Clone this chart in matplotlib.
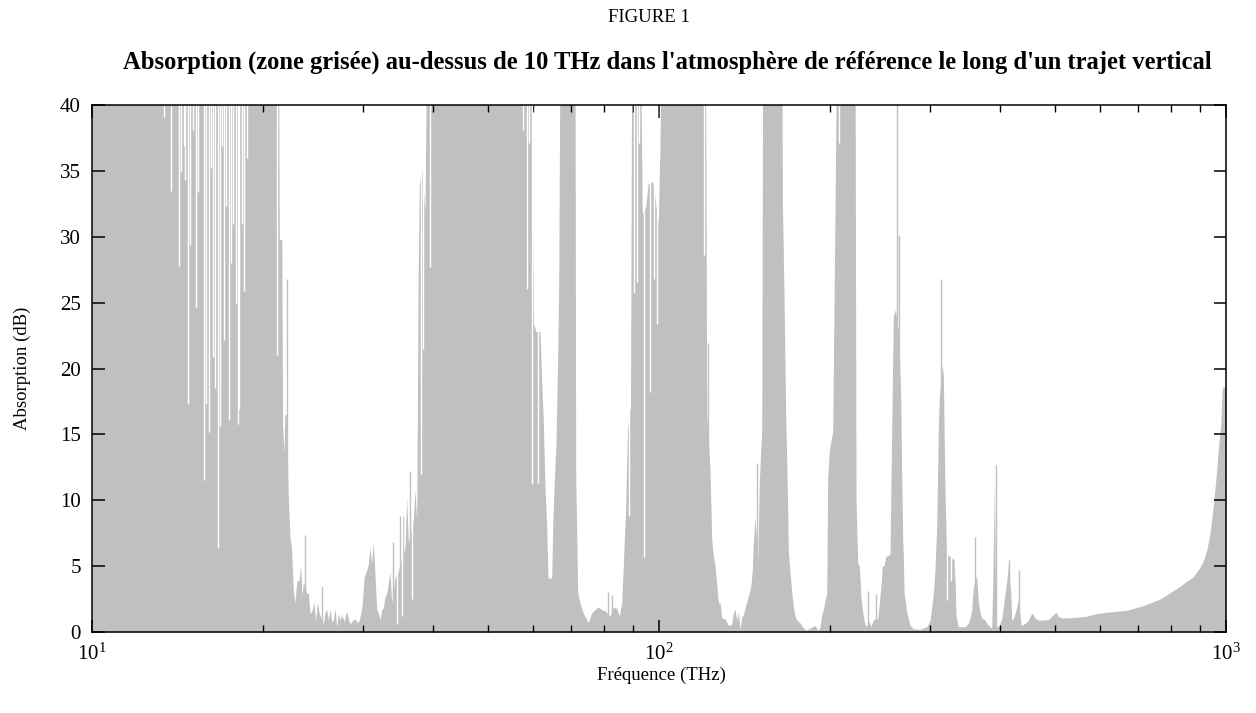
import matplotlib
matplotlib.use('Agg')
import matplotlib.pyplot as plt
from matplotlib.ticker import LogLocator, NullFormatter

plt.rcParams['font.family'] = ['Liberation Serif', 'DejaVu Serif']
plt.rcParams['mathtext.fontset'] = 'stix'

# Envelope of the absorption spectrum (THz, dB); values above 40 are saturated
env_freq = [10.00, 21.33, 21.40, 21.61, 21.69, 21.81, 21.88, 22.01, 22.19, 22.35,
            22.47, 22.65, 22.78, 22.99, 23.18, 23.34, 23.46, 23.59, 23.91, 24.07,
            24.24, 24.43, 24.63, 24.80, 24.97, 25.17, 25.58, 25.76, 25.94, 26.11,
            26.29, 26.47, 26.64, 26.83, 27.01, 27.19, 27.38, 27.57, 27.83, 28.13,
            28.32, 28.51, 28.83, 29.10, 29.37, 29.61, 29.94, 30.18, 30.51, 30.71,
            30.92, 31.14, 31.34, 31.56, 31.78, 31.98, 32.21, 32.43, 32.64, 32.87,
            33.09, 33.31, 33.54, 33.77, 34.23, 34.69, 35.65, 35.89, 36.13, 36.87,
            37.12, 37.38, 37.62, 37.78, 38.15, 38.66, 38.93,
            59.35, 60.07, 60.69, 61.68, 62.11, 62.51, 62.95, 63.38, 63.72, 64.68,
            64.95, 65.29, 65.82, 66.28, 66.55, 66.90,
            71.10, 71.30, 71.88, 72.55, 73.53, 75.04, 76.08, 77.11, 78.15, 79.24,
            80.31, 81.95, 83.06, 84.22, 85.11, 85.95, 86.51, 87.35, 87.92, 88.53,
            89.07, 89.51,
            92.76, 93.44, 94.75, 95.64, 97.48, 99.72, 100.41, 101.02,
            120.80, 121.39, 123.02, 123.88, 124.68, 125.55, 126.42, 127.24, 128.12, 129.01,
            130.75, 132.51, 134.35, 135.23, 136.17, 137.11, 138.00, 138.96, 139.92, 140.83,
            141.81, 142.79, 143.72, 144.72, 145.31, 146.08, 146.67, 147.69, 149.32, 150.29,
            151.15, 151.76, 152.38,
            164.80, 165.00, 166.14, 167.29, 168.38, 169.07, 170.24, 171.42, 172.54, 173.73,
            174.93, 177.29, 179.68, 182.18, 184.64, 188.43, 190.74, 192.29, 193.63, 194.89,
            196.24, 197.60, 198.40, 199.69, 202.47, 203.54, 204.62, 205.79,
            221.69, 222.59, 224.13, 225.59, 227.16, 228.73, 230.22, 231.54, 234.95, 236.29,
            238.21, 239.76, 243.10, 244.68, 246.38, 247.69, 249.40, 251.13, 253.18, 255.56,
            256.60, 258.17, 259.01, 261.33, 263.25, 264.53, 266.91, 267.99, 269.08, 269.73,
            270.51, 271.60, 273.49, 275.27, 277.18, 280.91, 288.65, 296.61, 298.55, 300.61,
            302.69, 304.66, 306.77, 308.90, 310.91, 312.18, 316.01, 317.30, 319.50, 321.71,
            324.33, 328.70, 331.38, 333.14, 334.09, 337.23, 346.53, 351.20, 353.64, 356.09,
            358.41, 363.39, 365.76, 368.30, 370.85, 375.85, 378.45, 383.55, 386.21, 387.79,
            390.32, 393.00, 395.10, 398.33, 402.23, 404.85, 407.65, 410.48, 413.15, 417.20,
            418.90, 421.63, 424.55, 427.49, 430.28, 435.02, 442.14, 448.11, 452.50, 456.19,
            460.47, 466.68, 476.26, 486.03, 495.99, 501.47, 506.17, 513.21, 537.96, 568.04,
            591.59, 616.12, 650.32, 668.26, 714.85, 764.99, 818.67, 875.75, 899.88, 912.02,
            924.71, 937.18, 949.83, 960.29, 969.31, 978.80, 985.18, 1000.0]
env_db = [45, 45, 29.8, 29.8, 15.6, 13.6, 16.5, 16.5, 10.2, 7.1,
          6.5, 3.2, 2.2, 3.9, 3.9, 5.1, 2.7, 3.8, 2.9, 3.0,
          1.4, 1.6, 2.3, 0.8, 2.3, 1.4, 0.6, 1.5, 1.7, 0.9,
          1.7, 0.8, 0.9, 1.8, 0.4, 1.4, 0.9, 1.3, 0.8, 1.6,
          1.0, 0.6, 0.9, 1.0, 0.7, 0.9, 1.9, 4.1, 4.7, 5.1,
          6.4, 5.2, 6.8, 4.3, 1.7, 1.5, 0.9, 1.7, 1.8, 2.7,
          2.9, 3.7, 4.6, 2.2, 4.1, 4.6, 6.4, 10.2, 6.8, 8.5,
          10.8, 8.5, 27.7, 34.0, 35.2, 31.9, 45,
          45, 23.4, 22.8, 22.8, 19.0, 16.0, 10.9, 8.0, 4.1, 4.1,
          8.2, 10.9, 14.4, 21.1, 26.6, 45,
          45, 12.1, 3.0, 2.2, 1.45, 0.7, 1.45, 1.7, 1.9, 1.7,
          1.6, 1.2, 1.9, 1.8, 1.2, 2.2, 5.0, 9.6, 14.9, 16.8,
          17.0, 45,
          45, 31.7, 32.3, 34.0, 34.2, 31.0, 37.1, 45,
          45, 16.5, 12.4, 7.0, 5.8, 5.0, 3.6, 2.2, 2.2, 1.06,
          1.0, 0.5, 0.6, 1.4, 1.75, 0.9, 1.5, 0.25, 1.1, 1.3,
          1.8, 2.3, 2.7, 3.2, 3.6, 4.7, 6.8, 8.7, 5.3, 11.4,
          13.7, 15.3, 45,
          45, 33.0, 25.6, 16.4, 11.1, 6.2, 4.5, 3.1, 1.9, 1.2,
          0.9, 0.7, 0.3, 0.15, 0.3, 0.5, 0.1, 0.4, 1.3, 1.7,
          2.4, 2.9, 11.7, 13.8, 15.2, 24.7, 34.2, 45,
          45, 10.0, 5.2, 5.0, 2.6, 1.5, 0.8, 0.4, 0.8, 0.4,
          0.8, 1.0, 1.0, 2.2, 3.6, 5.0, 5.0, 5.7, 5.8, 5.9,
          11.8, 20.0, 24.0, 24.5, 23.1, 23.1, 17.7, 11.7, 7.0, 5.7,
          3.0, 2.5, 1.5, 1.0, 0.5, 0.25, 0.2, 0.4, 0.6, 0.9,
          1.9, 2.9, 4.8, 8.0, 15.4, 17.8, 20.3, 19.5, 10.5, 5.9,
          5.8, 5.6, 5.5, 3.4, 1.2, 0.4, 0.4, 0.65, 1.1, 1.7,
          3.4, 4.3, 2.3, 1.5, 1.06, 0.9, 0.65, 0.4, 0.3, 3.7,
          11.0, 0.4, 0.4, 0.5, 1.06, 1.9, 2.9, 3.9, 5.1, 2.9,
          0.9, 1.0, 1.4, 1.9, 2.5, 0.5, 0.65, 0.9, 1.3, 1.4,
          1.06, 0.9, 0.9, 0.95, 1.3, 1.5, 1.2, 1.06, 1.1, 1.2,
          1.4, 1.5, 1.6, 1.65, 2.0, 2.5, 3.3, 4.2, 4.9, 5.4,
          6.2, 7.5, 9.6, 11.7, 13.9, 15.7, 18.6, 18.6]

# Narrow transparent windows (white gaps) inside the absorption bands
notch_freq = [13.40, 13.80, 14.26, 14.37, 14.51, 14.59, 14.77, 14.91, 15.09, 15.26,
              15.40, 15.78, 15.91, 16.08, 16.20, 16.37, 16.50, 16.68, 16.82, 16.94,
              17.12, 17.26, 17.42, 17.57, 17.71, 17.93, 18.07, 18.19, 18.37, 18.54,
              18.79, 21.22, 34.47, 35.17, 36.63, 37.99, 38.30, 39.46, 57.64, 58.44,
              59.06, 59.78, 61.26, 88.53, 90.35, 91.35, 92.20, 93.90, 96.42, 98.00,
              99.07, 120.21, 207.97, 322.50, 326.98]
notch_db = [39.1, 33.5, 27.8, 34.9, 36.9, 34.3, 17.3, 29.4, 38.1, 24.7,
            33.4, 11.5, 17.3, 15.2, 35.2, 20.9, 18.5, 6.4, 15.6, 36.9,
            22.2, 32.3, 16.1, 28.0, 31.0, 24.9, 15.8, 16.9, 31.0, 25.9,
            36.0, 21.0, 0.6, 1.2, 2.5, 12.0, 21.5, 27.7, 38.1, 26.0,
            37.1, 11.2, 11.3, 8.8, 25.7, 26.6, 37.1, 5.7, 18.2, 26.8,
            23.4, 28.6, 37.1, 2.4, 3.9]

# Isolated narrow absorption lines
spike_freq = [22.10, 23.78, 25.42, 33.91, 34.93, 35.40, 36.38, 81.19, 82.52, 122.18,
              148.71, 233.43, 241.43, 248.59, 262.39, 265.39, 314.34, 360.89, 392.54,
              414.83, 432.02]
spike_db = [26.8, 7.4, 3.5, 6.8, 8.8, 8.8, 12.2, 3.0, 2.8, 21.9,
            12.8, 3.1, 2.9, 5.0, 45, 30.1, 26.8, 7.2, 12.7,
            5.5, 4.7]

yticks = [0, 5, 10, 15, 20, 25, 30, 35, 40]

fig = plt.figure(figsize=(12.56, 7.13), dpi=100)
ax = fig.add_axes([92 / 1256, 1 - 632 / 713, (1226 - 92) / 1256, (632 - 105) / 713])

gray = '#c0c0c0'
ax.fill_between(env_freq, 0, env_db, color=gray, lw=0, zorder=1)
ax.vlines(spike_freq, 0, spike_db, color=gray, lw=1.0, zorder=1.5)
ax.vlines(notch_freq, notch_db, 45, color='white', lw=1.0, zorder=1.6)

ax.set_xscale('log')
ax.set_xlim(10, 1000)
ax.set_ylim(0, 40)
ax.set_yticks(yticks)
ax.xaxis.set_major_locator(LogLocator(base=10))
ax.xaxis.set_minor_locator(LogLocator(base=10, subs=range(2, 10)))
ax.xaxis.set_minor_formatter(NullFormatter())
ax.tick_params(which='both', direction='in', top=True, right=True, colors='black')
ax.tick_params(which='major', length=9, width=1.1, labelsize=15, pad=8)
ax.tick_params(which='minor', length=5, width=1.0)
for s in ax.spines.values():
    s.set_linewidth(1.1)
    s.set_zorder(3)

ax.set_xlabel('Fréquence (THz)', fontsize=13.5)
ax.set_ylabel('Absorption (dB)', fontsize=13.5)
ax.xaxis.set_label_coords(0.502, -0.066)
ax.yaxis.set_label_coords(-0.054, 0.5)

fig.text(0.517, 1 - 18 / 713, 'FIGURE 1', ha='center', va='center', fontsize=13.5)
fig.text(0.531, 1 - 62 / 713,
         "Absorption (zone grisée) au-dessus de 10 THz dans l'atmosphère de référence le long d'un trajet vertical",
         ha='center', va='center', fontsize=17.7, fontweight='bold')

fig.savefig('out.png', dpi=100)
